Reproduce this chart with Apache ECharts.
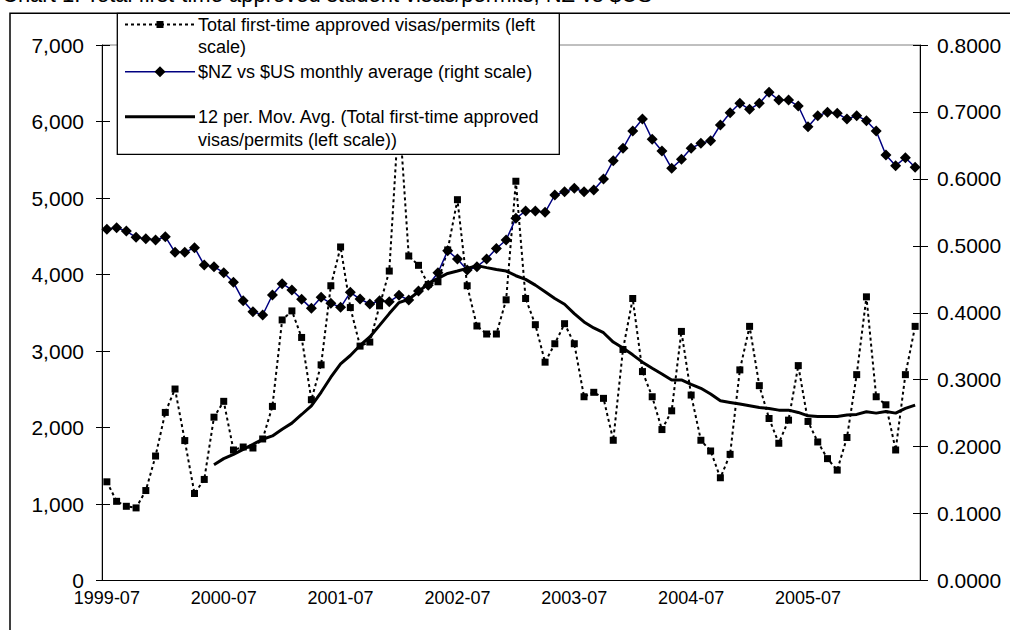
<!DOCTYPE html>
<html>
<head>
<meta charset="utf-8">
<script src="https://cdn.jsdelivr.net/npm/echarts@6/dist/echarts.min.js"></script>
<style>
  html, body { margin: 0; padding: 0; background: #fff; }
  #main { width: 1010px; height: 630px; }
</style>
</head>
<body>
<div id="main"></div>
<script>
// months, 1999-07 .. 2006-06
const months = [
  '1999-07','1999-08','1999-09','1999-10','1999-11','1999-12',
  '2000-01','2000-02','2000-03','2000-04','2000-05','2000-06','2000-07','2000-08','2000-09','2000-10','2000-11','2000-12',
  '2001-01','2001-02','2001-03','2001-04','2001-05','2001-06','2001-07','2001-08','2001-09','2001-10','2001-11','2001-12',
  '2002-01','2002-02','2002-03','2002-04','2002-05','2002-06','2002-07','2002-08','2002-09','2002-10','2002-11','2002-12',
  '2003-01','2003-02','2003-03','2003-04','2003-05','2003-06','2003-07','2003-08','2003-09','2003-10','2003-11','2003-12',
  '2004-01','2004-02','2004-03','2004-04','2004-05','2004-06','2004-07','2004-08','2004-09','2004-10','2004-11','2004-12',
  '2005-01','2005-02','2005-03','2005-04','2005-05','2005-06','2005-07','2005-08','2005-09','2005-10','2005-11','2005-12',
  '2006-01','2006-02','2006-03','2006-04','2006-05','2006-06'
];

// total first-time approved visas/permits (left scale)
const visas = [
  1290, 1035, 970, 949, 1176, 1627, 2197, 2503, 1829, 1137, 1321, 2135,
  2342, 1706, 1745, 1732, 1850, 2276, 3406, 3524, 3177, 2363, 2819, 3853,
  4360, 3568, 3064, 3117, 3590, 4045, 6150, 4242, 4120, 3870, 3905, 4321,
  4978, 3853, 3327, 3222, 3222, 3669, 5219, 3686, 3344, 2854, 3095, 3357,
  3095, 2402, 2460, 2381, 1833, 3020, 3686, 2731, 2402, 1973, 2218, 3256,
  2424, 1833, 1693, 1343, 1649, 2753, 3322, 2547, 2118, 1794, 2096, 2809,
  2079, 1811, 1593, 1443, 1869, 2691, 3708, 2402, 2297, 1706, 2691, 3322
];

// $NZ vs $US monthly average (right scale)
const nzdUsd = [
  0.5247, 0.5271, 0.5221, 0.5127, 0.5106, 0.5087, 0.5136, 0.4903, 0.4903, 0.4972, 0.4713, 0.4688,
  0.4598, 0.4455, 0.4180, 0.4016, 0.3966, 0.4265, 0.4434, 0.4340, 0.4203, 0.4066, 0.4231, 0.4141,
  0.4081, 0.4305, 0.4205, 0.4131, 0.4180, 0.4165, 0.4260, 0.4190, 0.4325, 0.4410, 0.4598, 0.4927,
  0.4803, 0.4638, 0.4688, 0.4803, 0.4960, 0.5087, 0.5411, 0.5520, 0.5520, 0.5500, 0.5759, 0.5808,
  0.5859, 0.5808, 0.5834, 0.5998, 0.6272, 0.6457, 0.6715, 0.6894, 0.6591, 0.6416, 0.6158, 0.6292,
  0.6457, 0.6531, 0.6570, 0.6805, 0.6988, 0.7129, 0.7039, 0.7129, 0.7293, 0.7178, 0.7178, 0.7088,
  0.6779, 0.6944, 0.6994, 0.6979, 0.6894, 0.6944, 0.6869, 0.6715, 0.6356, 0.6197, 0.6316, 0.6173
];

// 12 per. moving average (starts at the 12th month)
const movAvg = [
  null, null, null, null, null, null, null, null, null, null, null, 1514,
  1593, 1649, 1715, 1780, 1846, 1890, 1978, 2057, 2170, 2284, 2460, 2657,
  2832, 2941, 3072, 3183, 3335, 3489, 3633, 3677, 3774, 3883, 3949, 4014,
  4045, 4080, 4116, 4090, 4065, 4045, 3984, 3936, 3861, 3774, 3686, 3611,
  3489, 3380, 3301, 3239, 3117, 3038, 2950, 2854, 2775, 2700, 2622, 2622,
  2565, 2512, 2437, 2349, 2328, 2306, 2284, 2262, 2249, 2227, 2227, 2197,
  2152, 2144, 2144, 2144, 2162, 2171, 2205, 2188, 2210, 2188, 2249, 2293
];

const FONT = '"Liberation Sans", Arial, sans-serif';

const chart = echarts.init(document.getElementById('main'), null, { renderer: 'svg' });

const leftFmt = v => v.toLocaleString('en-US');
const rightFmt = v => v.toFixed(4);

const option = {
  animation: false,
  backgroundColor: '#fff',
  textStyle: { fontFamily: FONT, color: '#000' },
  grid: {
    left: 102, right: 90, top: 45, bottom: 49.5,
    show: true, borderColor: '#808080', borderWidth: 1
  },
  xAxis: [
    {
      type: 'category', data: months, position: 'bottom', boundaryGap: true,
      axisLine: { lineStyle: { color: '#000', width: 1 } },
      axisTick: { alignWithLabel: true, interval: 0, length: 4, lineStyle: { color: '#000' } },
      axisLabel: { interval: 11, margin: 10, fontSize: 18, lineHeight: 14, color: '#000', fontFamily: FONT },
      splitLine: { show: false }
    },
    {
      type: 'category', data: months, position: 'bottom', boundaryGap: true,
      axisLine: { show: false },
      axisTick: { inside: true, alignWithLabel: true, interval: 0, length: 3, lineStyle: { color: '#000' } },
      axisLabel: { show: false },
      splitLine: { show: false }
    }
  ],
  yAxis: [
    {
      type: 'value', position: 'left', min: 0, max: 7000, interval: 1000,
      axisLine: { show: true, lineStyle: { color: '#000' } },
      axisTick: { show: true, length: 6, lineStyle: { color: '#000' } },
      axisLabel: { margin: 18, fontSize: 21, lineHeight: 16, color: '#000', fontFamily: FONT, formatter: leftFmt },
      splitLine: { show: false }
    },
    {
      type: 'value', position: 'right', min: 0, max: 0.8, interval: 0.1,
      axisLine: { show: true, lineStyle: { color: '#000' } },
      axisTick: { show: true, length: 8, lineStyle: { color: '#000' } },
      axisLabel: { margin: 17, fontSize: 21, lineHeight: 16, color: '#000', fontFamily: FONT, formatter: rightFmt },
      splitLine: { show: false }
    },
    {
      type: 'value', position: 'left', min: 0, max: 7000, interval: 1000,
      axisLine: { show: false },
      axisTick: { show: true, inside: true, length: 8, lineStyle: { color: '#000' } },
      axisLabel: { show: false },
      splitLine: { show: false }
    },
    {
      type: 'value', position: 'right', min: 0, max: 0.8, interval: 0.1,
      axisLine: { show: false },
      axisTick: { show: true, inside: true, length: 7, lineStyle: { color: '#000' } },
      axisLabel: { show: false },
      splitLine: { show: false }
    }
  ],
  series: [
    {
      name: 'Total first-time approved visas/permits (left scale)',
      type: 'line', data: visas, xAxisIndex: 0, yAxisIndex: 0, z: 2,
      symbol: 'rect', symbolSize: 7, showAllSymbol: true,
      lineStyle: { color: '#000', width: 2, type: [3, 3] },
      itemStyle: { color: '#000' }
    },
    {
      name: '$NZ vs $US monthly average (right scale)',
      type: 'line', data: nzdUsd, xAxisIndex: 0, yAxisIndex: 1, z: 3,
      symbol: 'diamond', symbolSize: 11, showAllSymbol: true,
      lineStyle: { color: '#000080', width: 1.5 },
      itemStyle: { color: '#000' }
    },
    {
      name: '12 per. Mov. Avg. (Total first-time approved visas/permits (left scale))',
      type: 'line', data: movAvg, xAxisIndex: 0, yAxisIndex: 0, z: 4,
      symbol: 'none', connectNulls: false,
      lineStyle: { color: '#000', width: 3 }
    }
  ],
  graphic: [
    // outer chart frame
    { type: 'rect', z: 1, silent: true,
      shape: { x: 10, y: 13.3, width: 1100, height: 700 },
      style: { fill: 'none', stroke: '#000', lineWidth: 1.5 } },
    // title, its top cut off by the page edge as in the original
    { type: 'text', z: 1, silent: true,
      style: { x: 2, y: -6, text: 'Chart 1: Total first-time approved student visas/permits, NZ vs $US',
               font: '22px ' + FONT, fill: '#000', verticalAlign: 'middle' } },
    // legend box
    { type: 'group', z: 100, silent: true, children: [
      { type: 'rect', z: 100, shape: { x: 117.3, y: 13.3, width: 442, height: 141 },
        style: { fill: '#fff', stroke: '#000', lineWidth: 1.3 } },
      { type: 'line', z: 101, shape: { x1: 125, y1: 24.5, x2: 195, y2: 24.5 },
        style: { stroke: '#000', lineWidth: 2, lineDash: [3, 3] } },
      { type: 'rect', z: 101, shape: { x: 156.5, y: 21, width: 7, height: 7 }, style: { fill: '#000' } },
      { type: 'text', z: 101, style: { x: 198, y: 24.5, text: 'Total first-time approved visas/permits (left',
        font: '18px ' + FONT, fill: '#000', verticalAlign: 'middle' } },
      { type: 'text', z: 101, style: { x: 198, y: 46.5, text: 'scale)',
        font: '18px ' + FONT, fill: '#000', verticalAlign: 'middle' } },
      { type: 'line', z: 101, shape: { x1: 125, y1: 71.7, x2: 195, y2: 71.7 },
        style: { stroke: '#000080', lineWidth: 1.5 } },
      { type: 'polygon', z: 101, shape: { points: [[160, 66.2], [165.5, 71.7], [160, 77.2], [154.5, 71.7]] },
        style: { fill: '#000' } },
      { type: 'text', z: 101, style: { x: 198, y: 72, text: '$NZ vs $US monthly average (right scale)',
        font: '18px ' + FONT, fill: '#000', verticalAlign: 'middle' } },
      { type: 'line', z: 101, shape: { x1: 125, y1: 116.7, x2: 195, y2: 116.7 },
        style: { stroke: '#000', lineWidth: 3 } },
      { type: 'text', z: 101, style: { x: 198, y: 117, text: '12 per. Mov. Avg. (Total first-time approved',
        font: '18px ' + FONT, fill: '#000', verticalAlign: 'middle' } },
      { type: 'text', z: 101, style: { x: 198, y: 139.5, text: 'visas/permits (left scale))',
        font: '18px ' + FONT, fill: '#000', verticalAlign: 'middle' } }
    ] }
  ]
};

chart.setOption(option);
</script>
</body>
</html>
